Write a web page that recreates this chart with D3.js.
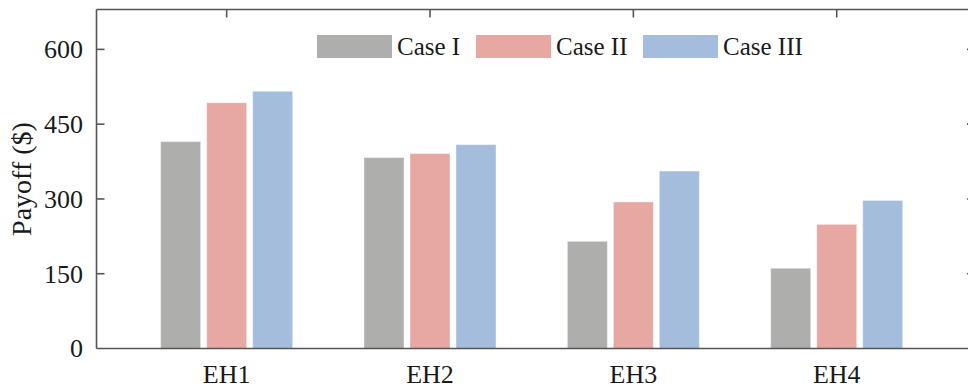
<!DOCTYPE html>
<html>
<head>
<meta charset="utf-8">
<script src="https://cdn.jsdelivr.net/npm/d3@7"></script>
<style>
  body { margin: 0; background: #fff; }
  svg { display: block; font-family: "Liberation Serif", "Times New Roman", serif; }
</style>
</head>
<body>
<svg width="968" height="391"></svg>
<script>
// data
var categories = ["EH1", "EH2", "EH3", "EH4"];
var series = ["Case I", "Case II", "Case III"];
var caseI = [415, 383, 215, 161];
var caseII = [493, 391, 294, 249];
var caseIII = [516, 409, 356, 297];
var yTicks = [0, 150, 300, 450, 600];
var colors = ["#aeafad", "#e7a8a4", "#a5bddc"];

var values = [caseI, caseII, caseIII];

var svg = d3.select("svg"),
    margin = {top: 9.5, left: 96.5, bottom: 348.5, right: 975};

// category positions 1..4 on a linear axis
var x = d3.scaleLinear().domain([0.36, 4.68]).range([margin.left, margin.right]);
var y = d3.scaleLinear().domain([0, 680]).range([margin.bottom, margin.top]);
var inner = d3.scaleBand().domain(series).range([-66, 66]).paddingInner(6 / 46);

var axisColor = "#555";
var textColor = "#1a1a1a";

// bars
var groups = svg.append("g").selectAll("g")
    .data(categories).enter()
    .append("g")
    .attr("transform", function(d, i) { return "translate(" + x(i + 1) + ",0)"; });

groups.selectAll("rect")
    .data(function(d, i) { return series.map(function(s, k) { return {s: s, k: k, v: values[k][i]}; }); })
    .enter().append("rect")
    .attr("x", function(d) { return inner(d.s); })
    .attr("width", inner.bandwidth())
    .attr("y", function(d) { return y(d.v); })
    .attr("height", function(d) { return y(0) - y(d.v); })
    .attr("fill", function(d) { return colors[d.k]; })
    .attr("stroke", "#fff")
    .attr("stroke-opacity", 0.4)
    .attr("stroke-width", 1);

// frame
var frame = svg.append("g")
    .attr("stroke", axisColor)
    .attr("stroke-width", 1.6)
    .attr("fill", "none");
frame.append("line").attr("x1", margin.left).attr("x2", margin.right).attr("y1", margin.top).attr("y2", margin.top);
frame.append("line").attr("x1", margin.left).attr("x2", margin.right).attr("y1", margin.bottom).attr("y2", margin.bottom);
frame.append("line").attr("x1", margin.left).attr("x2", margin.left).attr("y1", margin.top).attr("y2", margin.bottom);
frame.append("line").attr("x1", margin.right).attr("x2", margin.right).attr("y1", margin.top).attr("y2", margin.bottom);

// inward ticks
var tickLen = 8;
frame.selectAll(".yl").data(yTicks.slice(1)).enter().append("line")
    .attr("x1", margin.left).attr("x2", margin.left + tickLen)
    .attr("y1", function(d) { return y(d); }).attr("y2", function(d) { return y(d); });
frame.selectAll(".yr").data(yTicks.slice(1)).enter().append("line")
    .attr("x1", margin.right).attr("x2", margin.right - tickLen)
    .attr("y1", function(d) { return y(d); }).attr("y2", function(d) { return y(d); });
frame.selectAll(".xt").data(categories).enter().append("line")
    .attr("x1", function(d, i) { return x(i + 1); }).attr("x2", function(d, i) { return x(i + 1); })
    .attr("y1", margin.top).attr("y2", margin.top + tickLen);

// tick labels
svg.append("g").selectAll("text")
    .data(yTicks).enter().append("text")
    .attr("x", 83)
    .attr("y", function(d) { return y(d); })
    .attr("dy", "0.34em")
    .attr("text-anchor", "end")
    .attr("font-size", 26)
    .attr("fill", textColor)
    .text(function(d) { return d; });

svg.append("g").selectAll("text")
    .data(categories).enter().append("text")
    .attr("x", function(d, i) { return x(i + 1); })
    .attr("y", 383)
    .attr("text-anchor", "middle")
    .attr("font-size", 26)
    .attr("fill", textColor)
    .text(function(d) { return d; });

// y label
svg.append("text")
    .attr("transform", "translate(31," + ((margin.top + margin.bottom) / 2) + ") rotate(-90)")
    .attr("text-anchor", "middle")
    .attr("font-size", 28)
    .attr("fill", textColor)
    .text("Payoff ($)");

// legend
var legendX = [317, 476, 643];
var legend = svg.append("g").selectAll("g")
    .data(series).enter()
    .append("g")
    .attr("transform", function(d, i) { return "translate(" + legendX[i] + ",35)"; });
legend.append("rect")
    .attr("width", 75).attr("height", 23)
    .attr("fill", function(d, i) { return colors[i]; });
legend.append("text")
    .attr("x", 80).attr("y", 11.5).attr("dy", "0.34em")
    .attr("font-size", 25)
    .attr("fill", textColor)
    .text(function(d) { return d; });
</script>
</body>
</html>
